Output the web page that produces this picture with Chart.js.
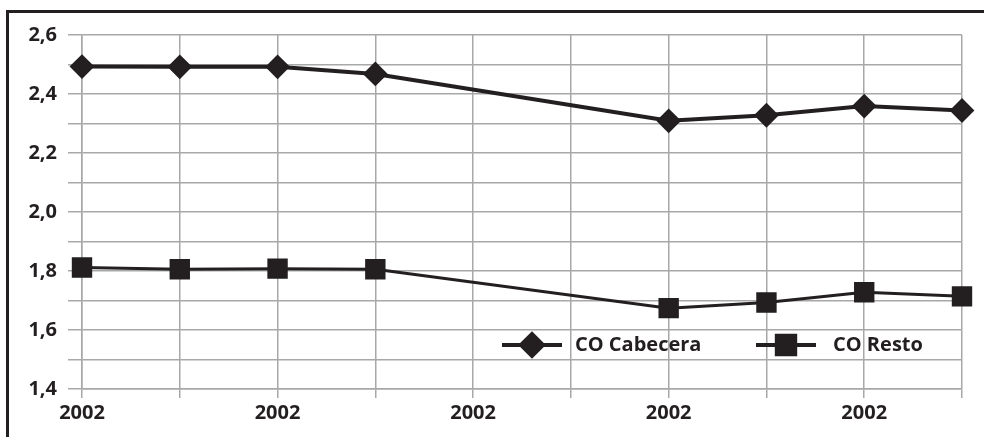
<!DOCTYPE html>
<html>
<head>
<meta charset="utf-8">
<script src="https://cdn.jsdelivr.net/npm/chart.js@4/dist/chart.umd.min.js"></script>
<style>
  html, body { margin: 0; padding: 0; background: #fff; overflow: hidden; }
  #wrap { position: relative; width: 984px; height: 437px; }
  #frame { position: absolute; left: 6px; top: 10px; width: 990px; height: 440px;
           border-top: 3px solid #231f20; border-left: 3px solid #231f20; }
  canvas { position: absolute; left: 0; top: 0; }
</style>
</head>
<body>
<div id="wrap">
  <div id="frame"></div>
  <canvas id="chart" width="984" height="437"></canvas>
</div>
<script>
// categories (every other one gets a label on the axis)
const years = ['2002', '2002', '2002', '2002', '2002', '2002', '2002', '2002', '2002', '2002'];
// series values, categories 4 and 5 have no data
const cabecera = [2.493, 2.492, 2.492, 2.468, null, null, 2.309, 2.328, 2.359, 2.344];
const resto    = [1.812, 1.806, 1.808, 1.806, null, null, 1.674, 1.693, 1.728, 1.714];
const seriesNames = ['CO Cabecera', 'CO Resto'];
const yTicks = { min: 1.4, max: 2.6, step: 0.1 };

const INK = '#231f20';
const GRID = '#a8a8a8';
const FONT = "'Open Sans', sans-serif";

// legend drawn inside the plot, bottom right
const insideLegend = {
    id: 'insideLegend',
    afterDatasetsDraw(chart) {
        const ctx = chart.ctx;
        const area = chart.chartArea;
        const y = area.bottom - 44;
        const items = [
            { x: area.right - 460, style: 'rectRot', radius: 11, text: seriesNames[0], textX: 73 },
            { x: area.right - 206, style: 'rect', radius: 13, text: seriesNames[1], textX: 77 },
        ];
        ctx.save();
        items.forEach(it => {
            ctx.strokeStyle = INK;
            ctx.lineWidth = 4;
            ctx.beginPath();
            ctx.moveTo(it.x, y);
            ctx.lineTo(it.x + 60, y);
            ctx.stroke();
            ctx.fillStyle = INK;
            Chart.helpers.drawPoint(ctx, {
                pointStyle: it.style, radius: it.radius, rotation: 0, borderWidth: 2
            }, it.x + 30, y);
            ctx.fillStyle = INK;
            ctx.font = 'bold 20px ' + FONT;
            ctx.textBaseline = 'middle';
            ctx.textAlign = 'left';
            ctx.fillText(it.text, it.x + it.textX, y);
        });
        ctx.restore();
    }
};

new Chart(document.getElementById('chart'), {
    type: 'line',
    data: {
        labels: years,
        datasets: [
            {
                label: seriesNames[0],
                data: cabecera,
                borderColor: INK,
                backgroundColor: INK,
                borderWidth: 4,
                pointStyle: 'rectRot',
                pointRadius: 11,
                pointBorderWidth: 2,
                spanGaps: true,
            },
            {
                label: seriesNames[1],
                data: resto,
                borderColor: INK,
                backgroundColor: INK,
                borderWidth: 3,
                pointStyle: 'rect',
                pointRadius: 13,
                pointBorderWidth: 2,
                spanGaps: true,
            }
        ]
    },
    options: {
        responsive: false,
        animation: false,
        layout: { padding: { top: 35, right: 22, left: 0, bottom: 0 } },
        plugins: {
            legend: { display: false },
            tooltip: { enabled: false },
        },
        elements: { line: { tension: 0 } },
        scales: {
            x: {
                offset: false,
                grid: { color: GRID, lineWidth: 1.5, tickLength: 9 },
                border: { color: GRID, width: 1.5 },
                ticks: {
                    autoSkip: false,
                    maxRotation: 0,
                    padding: 3,
                    color: INK,
                    font: { family: FONT, size: 20, weight: 'bold' },
                    callback: (v, i) => (i % 2 === 0 ? years[i] : ''),
                },
                afterFit: s => { s.height = 48; },
            },
            y: {
                min: yTicks.min,
                max: yTicks.max,
                grid: { color: GRID, lineWidth: 1.5, tickLength: 14 },
                border: { color: GRID, width: 1.5 },
                ticks: {
                    stepSize: yTicks.step,
                    padding: 11,
                    color: INK,
                    font: { family: FONT, size: 20, weight: 'bold' },
                    callback: v => (Math.round(v * 10) % 2 === 0 ? v.toFixed(1).replace('.', ',') : ''),
                },
                afterFit: s => { s.width = 82; },
            }
        }
    },
    plugins: [insideLegend]
});
</script>
</body>
</html>
